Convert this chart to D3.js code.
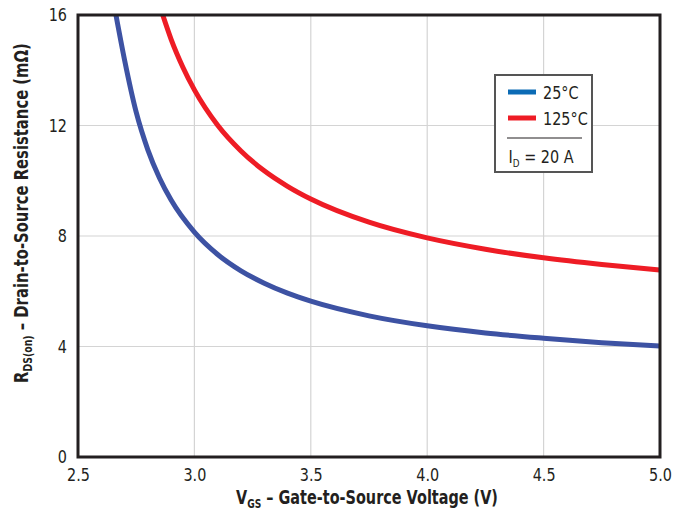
<!DOCTYPE html>
<html>
<head>
<meta charset="utf-8">
<script src="https://cdn.jsdelivr.net/npm/d3@7"></script>
<style>
  body { margin: 0; background: #fff; }
  text { font-family: "DejaVu Sans", sans-serif; fill: #231f20; }
</style>
</head>
<body>
<svg id="chart" width="684" height="514"></svg>
<script>
// values
var vgs25 = [2.663, 2.70, 2.75, 2.80, 2.85, 2.90, 3.0, 3.1, 3.2, 3.3, 3.4, 3.5, 3.75, 4.0, 4.25, 4.5, 4.75, 5.0]
var rds25 = [16.0, 14.37, 12.48, 11.12, 10.10, 9.30, 8.14, 7.33, 6.74, 6.29, 5.93, 5.64, 5.11, 4.75, 4.49, 4.30, 4.14, 4.02]
var vgs125 = [2.864, 2.90, 2.95, 3.0, 3.1, 3.2, 3.3, 3.4, 3.5, 3.75, 4.0, 4.25, 4.5, 4.75, 5.0]
var rds125 = [16.0, 15.12, 14.12, 13.29, 12.01, 11.08, 10.36, 9.80, 9.34, 8.50, 7.93, 7.52, 7.21, 6.97, 6.77]
var xTicks = [2.5, 3.0, 3.5, 4.0, 4.5, 5.0]
var yTicks = [0, 4, 8, 12, 16]
var legendNames = ["25°C", "125°C"]

var pL = 78, pR = 660, pT = 15, pB = 457
var narrow = 0.8 // fake a condensed face
var svg = d3.select("#chart")
var x = d3.scaleLinear().domain([2.5, 5.0]).range([pL, pR])
var y = d3.scaleLinear().domain([0, 16]).range([pB, pT])

// grid
svg.append("g").selectAll("line").data(xTicks.slice(1, -1)).join("line")
  .attr("x1", x).attr("x2", x).attr("y1", pT).attr("y2", pB)
  .attr("stroke", "#d4d4d4").attr("stroke-width", 1.2)
svg.append("g").selectAll("line").data(yTicks.slice(1, -1)).join("line")
  .attr("y1", y).attr("y2", y).attr("x1", pL).attr("x2", pR)
  .attr("stroke", "#d4d4d4").attr("stroke-width", 1.2)

// axes (labels only, frame drawn below)
var xAxis = svg.append("g").attr("transform", "translate(0," + pB + ")")
  .call(d3.axisBottom(x).tickValues(xTicks).tickFormat(d3.format(".1f")).tickSize(0).tickPadding(11))
var yAxis = svg.append("g").attr("transform", "translate(" + pL + ",0)")
  .call(d3.axisLeft(y).tickValues(yTicks).tickSize(0).tickPadding(10))
;[xAxis, yAxis].forEach(function (a) {
  a.select(".domain").remove()
  a.selectAll("text").style("font-size", "18px").attr("fill", "#231f20")
    .style("font-family", '"DejaVu Sans", sans-serif')
    .attr("transform", "scale(" + narrow + ",1)")
})
yAxis.selectAll("text").attr("x", -11 / narrow)

// curves
svg.append("clipPath").attr("id", "clip").append("rect")
  .attr("x", pL).attr("y", pT).attr("width", pR - pL).attr("height", pB - pT)
var line = d3.line().x(function (d) { return x(d[0]) }).y(function (d) { return y(d[1]) })
  .curve(d3.curveMonotoneX)
var series = [
  { pts: d3.zip(vgs25, rds25), color: "#3d52a3" },
  { pts: d3.zip(vgs125, rds125), color: "#ee1c25" }
]
svg.append("g").attr("clip-path", "url(#clip)").selectAll("path").data(series).join("path")
  .attr("d", function (s) { return line(s.pts) })
  .attr("fill", "none").attr("stroke", function (s) { return s.color })
  .attr("stroke-width", 5)

// frame
svg.append("rect").attr("x", pL).attr("y", pT).attr("width", pR - pL).attr("height", pB - pT)
  .attr("fill", "none").attr("stroke", "#231f20").attr("stroke-width", 3)

// legend
var lg = svg.append("g").attr("transform", "translate(495,75)")
lg.append("rect").attr("width", 97).attr("height", 97).attr("fill", "#fff")
  .attr("stroke", "#555").attr("stroke-width", 2)
var legColors = ["#0b6bb5", "#ee1c25"]
legendNames.forEach(function (n, i) {
  lg.append("line").attr("x1", 13).attr("x2", 41).attr("y1", 17 + i * 26).attr("y2", 17 + i * 26)
    .attr("stroke", legColors[i]).attr("stroke-width", 5)
  lg.append("text").attr("transform", "translate(48," + (24 + i * 26) + ") scale(" + narrow + ",1)")
    .style("font-size", "18px").text(n)
})
lg.append("line").attr("x1", 12).attr("x2", 87).attr("y1", 63).attr("y2", 63)
  .attr("stroke", "#231f20").attr("stroke-width", 1.2)
var id = lg.append("text").attr("transform", "translate(46,88) scale(" + narrow + ",1)")
  .attr("text-anchor", "middle").style("font-size", "18px")
id.append("tspan").text("I")
id.append("tspan").attr("dy", 4).style("font-size", "11px").text("D")
id.append("tspan").attr("dy", -4).text(" = 20 A")

// axis titles
var xt = svg.append("text").attr("transform", "translate(367,504) scale(0.76,1)")
  .attr("text-anchor", "middle").style("font-size", "19px").style("font-weight", "bold")
xt.append("tspan").text("V")
xt.append("tspan").attr("dy", 4).style("font-size", "12px").text("GS")
xt.append("tspan").attr("dy", -4).text(" – Gate-to-Source Voltage (V)")

var yt = svg.append("text").attr("transform", "translate(28,213) rotate(-90) scale(0.78,1)")
  .attr("text-anchor", "middle").style("font-size", "19px").style("font-weight", "bold")
yt.append("tspan").text("R")
yt.append("tspan").attr("dy", 4).style("font-size", "12px").text("DS(on)")
yt.append("tspan").attr("dy", -4).text(" – Drain-to-Source Resistance (mΩ)")
</script>
</body>
</html>
